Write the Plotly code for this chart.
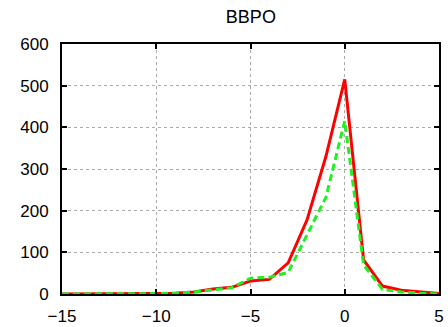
import plotly.graph_objects as go

x_vals = list(range(-15, 6))
red_vals = [0, 0, 0, 0, 0, 1, 2, 5, 12, 16, 31, 35, 75, 178, 330, 515, 82, 19, 9, 5, 1]
green_vals = [0, 0, 0, 0, 0, 1, 2, 5, 10, 15, 38, 40, 52, 142, 232, 415, 70, 11, 5, 2, 0]

x_ticks = [-15, -10, -5, 0, 5]
y_ticks = [0, 100, 200, 300, 400, 500, 600]

fig = go.Figure()
fig.add_trace(go.Scatter(x=x_vals, y=red_vals, mode="lines",
                         line=dict(color="#ff0000", width=3), showlegend=False))
fig.add_trace(go.Scatter(x=x_vals, y=green_vals, mode="lines",
                         line=dict(color="#1ff01f", width=3, dash="7px,4px"), showlegend=False))

axis_common = dict(showline=True, linecolor="black", linewidth=2, mirror="ticks",
                   ticks="inside", ticklen=5, tickwidth=1.5, tickcolor="black",
                   showgrid=True, gridcolor="#aaaaaa", griddash="dot", gridwidth=1,
                   zeroline=False, automargin=False,
                   tickfont=dict(size=17, color="black", family="Liberation Sans, Arial"))

fig.update_xaxes(range=[-15, 5], tickvals=x_ticks, ticklabelstandoff=6, **axis_common)
fig.update_yaxes(range=[0, 600], tickvals=y_ticks, ticklabelstandoff=8, **axis_common)

fig.update_layout(
    width=448, height=327,
    margin=dict(l=62, r=9, t=44, b=33),
    paper_bgcolor="white", plot_bgcolor="white",
    title=dict(text="BBPO", x=0.56, xanchor="center", y=0.9495, yanchor="middle",
               font=dict(size=18, color="black", family="Liberation Sans, Arial")),
)

fig.write_html("out.html")
